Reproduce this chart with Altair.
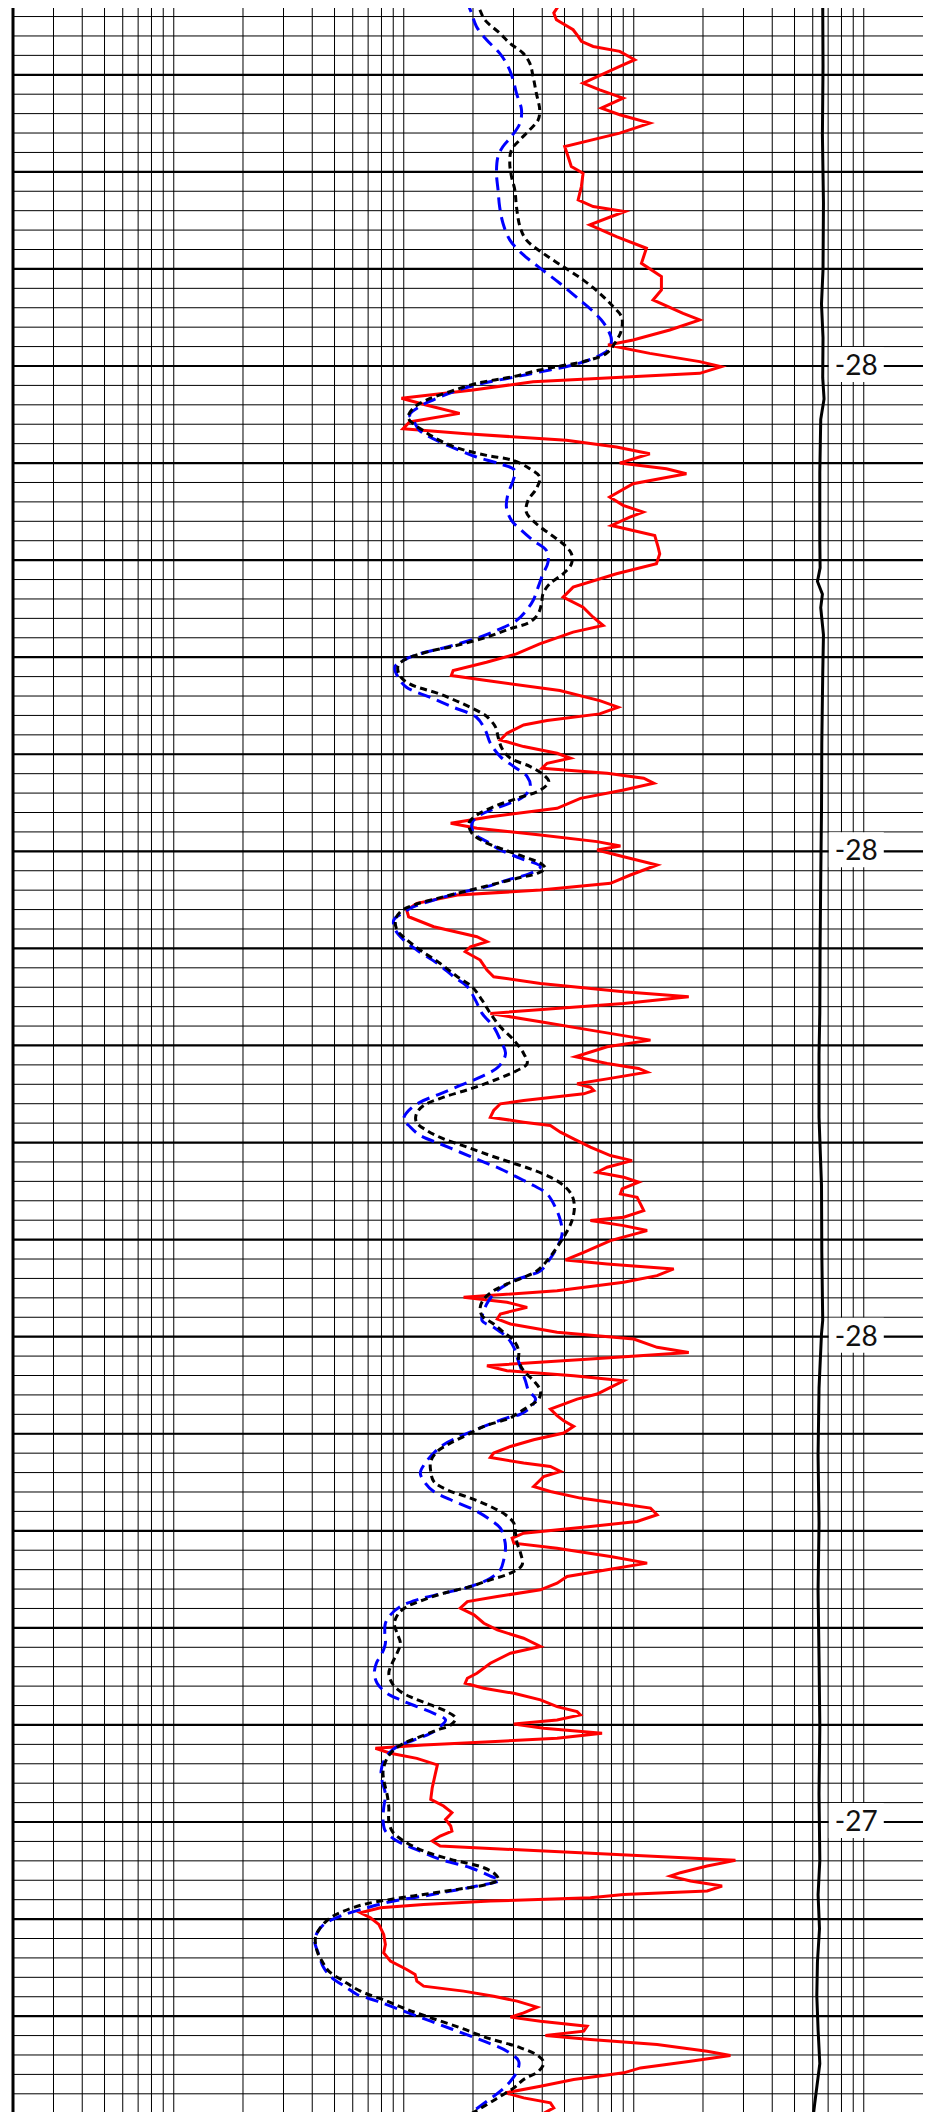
import altair as alt
import pandas as pd

# ---- curve data (depth, resistivity-like value on log scale) ----
RED_DEPTH = [62.27, 62.96, 63.64, 64.33, 65.36, 66.05, 66.56, 67.08, 67.59, 68.45, 69.14, 70.86, 71.55, 72.41,
             73.44, 74.12, 74.98, 76.01, 77.39, 78.42, 79.45, 80.14, 81.51, 82.89, 83.57, 84.09, 84.6, 85.46,
             86.67, 87.87, 89.42, 90.79, 92.16, 93.2, 94.57, 95.26, 96.29, 97.32, 97.84, 98.7, 99.55, 100.07,
             100.76, 101.62, 102.47, 103.33, 104.02, 104.88, 105.77, 106.46, 106.98, 107.66, 108.35, 109.04,
             110.0, 110.58, 111.1, 112.13, 113.5, 114.36, 115.05, 115.57, 116.43, 116.94, 117.46, 118.66,
             119.35, 120.38, 121.41, 122.78, 123.81, 124.85, 125.88, 126.74, 127.42, 128.63, 129.66, 130.52,
             131.37, 131.89, 132.41, 133.44, 134.47, 135.15, 135.84, 136.53, 136.98, 137.84, 138.52, 139.21,
             139.9, 140.41, 140.93, 141.44, 141.96, 142.47, 142.99, 143.68, 144.54, 145.57, 146.43, 147.11,
             147.63, 148.32, 149.0, 149.45, 149.86, 150.55, 151.41, 152.44, 153.3, 153.99, 154.5, 155.36,
             156.05, 156.74, 157.77, 158.8, 159.31, 159.83, 160.34, 161.2, 162.23, 162.92, 163.61, 164.47,
             164.98, 165.67, 166.7, 167.56, 168.42, 169.45, 170.14, 171.17, 171.86, 172.37, 172.75, 173.44,
             173.95, 174.3, 174.64, 174.98, 175.67, 176.01, 176.7, 177.39, 177.9, 178.25, 178.93, 179.62,
             180.48, 181.34, 181.86, 182.54, 183.06, 183.57, 184.09, 184.78, 185.29, 185.64, 186.32, 187.01,
             187.7, 188.04, 188.56, 189.07, 190.1, 191.31, 192.1, 192.51, 193.02, 193.71, 194.4, 195.26,
             195.95, 196.46, 196.98, 197.66, 198.18, 198.69, 199.55, 200.24, 201.1, 201.62, 202.3, 202.99,
             203.51, 204.02, 204.54, 205.22, 205.91, 206.43, 206.94, 207.46, 208.14, 208.66, 209.24, 209.93,
             210.62, 211.31, 211.99, 212.44, 213.02, 213.37, 213.88, 214.4, 215.43, 215.95, 216.63, 217.15,
             217.66, 218.35, 219.04, 219.55, 220.24, 220.76, 221.27, 221.79, 222.65, 223.33, 224.02, 224.71,
             225.4, 226.08, 226.77, 227.29, 227.97, 228.66, 229.52, 230.21, 231.07, 231.92, 232.61, 233.64,
             234.67, 235.19, 235.7, 236.22, 236.74, 237.42, 238.11, 238.63, 238.97, 239.48, 239.9, 240.34,
             240.86, 241.37, 241.72, 242.06, 242.41, 242.92, 243.44, 244.12, 245.09, 246.46, 247.66, 248.35,
             249.04, 249.73, 250.41, 250.93, 251.44, 251.96, 252.47, 253.95, 254.54, 255.22, 255.57, 256.08,
             256.6, 257.11, 257.46, 257.8, 258.14, 258.49, 258.83, 259.35, 259.86, 260.55, 261.58, 262.61,
             263.47, 264.33, 265.19, 265.7, 266.39, 266.91, 267.42, 267.94, 268.45, 269.07, 269.66, 270.1,
             270.52, 271.03, 271.55, 271.99, 272.41, 272.92, 273.61, 274.05, 274.64, 275.33, 275.84, 276.53,
             277.22, 277.9, 278.42, 278.93, 279.45, 280.0]
RED_VALUE = [45.4, 46.9, 44.9, 46.1, 54.5, 57.3, 59.2, 66.6, 86.9, 101, 86.9, 60.2, 71.1, 89.9,
             72.3, 86.9, 117.4, 86.9, 50.1, 51.8, 53.5, 60.2, 59.2, 57.3, 66.6, 91.4, 80, 64.4,
             84.1, 113.5, 108, 131.9, 131.9, 121.3, 163.9, 193.6, 143.4, 99.3, 77.3, 117.4, 193.6, 240,
             193.6, 36.5, 20, 9.77, 12.5, 17.5, 10.6, 9.93, 18.7, 50.9, 84.1, 117.4,
             86.9, 138.7, 169.4, 99.3, 78.6, 89.9, 109.8, 96.1, 80, 99.3, 123.4, 127.6,
             129.7, 125.5, 84.1, 54.5, 49.3, 60.2, 66.6, 73.6, 54.5, 39, 30.9, 22.9,
             16.4, 16.1, 22.9, 47.7, 71.1, 85.5, 71.1, 42.0, 33.2, 28.1, 26.3, 33.2,
             46.4, 53, 42, 39.9, 76.6, 110.5, 122.2, 90.4, 58.6, 46.4, 23.8, 16,
             20.8, 39.3, 69.3, 87.5, 69.3, 90.4, 126.3, 96.7, 79.2, 39.3, 17.1, 11.4,
             10.3, 10.5, 13.5, 20.8, 23, 19.5, 18.5, 21.5, 23, 24.6, 39.3, 90.4,
             173.4, 90.4, 23.8, 39.3, 64.8, 118.2, 76.6, 55.8, 76.6, 105, 114.3, 76.6,
             56.7, 64.8, 67, 60.6, 33.2, 26.3, 24.6, 23.8, 33.2, 43.4, 48, 54.8,
             64.8, 79.2, 98.3, 76.6, 69.3, 90.4, 105.1, 89, 87.5, 103.4, 106.9, 110.5,
             90.4, 64.8, 90.4, 114.3, 79.2, 60.6, 50.5, 76.6, 149.2, 126.3, 90.4, 46.4,
             18.2, 28.1, 34.4, 26.3, 25.5, 29.1, 46.4, 100, 126.3, 173.4, 64.8, 23,
             28.1, 54.8, 90.4, 79.2, 69.3, 56.7, 49.6, 43.4, 46.4, 49.6, 54.8, 49.6,
             36.7, 29.1, 24.6, 23.8, 33.2, 43.4, 48, 40.6, 36.7, 43.4, 58.6, 84.6,
             118.2, 126.3, 103.4, 64.8, 33.2, 29.6, 30.1, 46.4, 79.2, 114.3, 76.6, 51.3,
             46.4, 39.3, 25.5, 18.9, 17.6, 20.2, 22.3, 25.5, 33.2, 39.3, 29.1, 23.8,
             20.8, 18.9, 18.5, 22.3, 30.1, 39.3, 46.4, 56.7, 58.6, 46.4, 30.1, 40.6,
             72.8, 46.4, 23.8, 12.2, 7.53, 8.75, 11.4, 14, 13.7, 13.3, 13.1, 14.9,
             16.2, 15.2, 16, 16.2, 14.4, 13.3, 14.4, 276.7, 208.4, 159.5, 144.3, 176.4,
             242.1, 208.4, 90.4, 64.8, 23.8, 12.2, 7.92, 6.48, 7.16, 7.79, 8.18, 8.32,
             8.18, 8.75, 10.3, 11.2, 11.4, 12.2, 18.2, 24.6, 31.1, 38, 33.2, 29.1,
             39.3, 62.7, 60.6, 41.3, 64.8, 126.3, 208.4, 263.2, 176.4, 106.9, 90.4, 54.8,
             39.3, 27.7, 33.2, 43.4, 44.9, 40.6]

BLACK_DEPTH = [62.27, 63.3, 64.33, 65.7, 66.74, 67.77, 68.8, 70.17, 71.89, 73.61, 74.64, 75.67, 76.7, 77.73,
               79.11, 80.48, 81.86, 83.57, 85.64, 87.01, 88.38, 89.76, 91.13, 92.51, 93.88, 94.91, 96.29,
               97.66, 98.69, 99.38, 99.9, 100.41, 101.1, 101.79, 102.65, 103.51, 104.36, 105.22, 105.6,
               106.63, 107.66, 108.52, 109.21, 109.73, 110.58, 111.44, 112.65, 113.85, 115.05, 116.25,
               117.29, 118.32, 119.35, 120.38, 121.41, 122.44, 123.47, 124.5, 125.53, 126.39, 127.08,
               127.94, 128.8, 129.48, 130.17, 130.86, 131.89, 132.75, 133.78, 134.81, 135.84, 136.12,
               137.15, 138.35, 139.38, 140.41, 141.27, 142.13, 142.82, 143.68, 144.54, 145.4, 146.25,
               147.11, 148.14, 149.0, 149.69, 150.55, 151.24, 151.75, 152.27, 152.78, 153.47, 154.16,
               154.85, 155.53, 156.22, 157.08, 158.11, 159.14, 160.17, 161.55, 162.92, 163.95, 165.33,
               166.7, 168.08, 169.45, 170.82, 171.86, 172.58, 173.61, 174.47, 175.33, 176.19, 177.04,
               177.9, 178.76, 179.62, 180.48, 181.34, 182.03, 182.71, 183.57, 184.43, 185.46, 186.67,
               188.04, 189.42, 190.79, 192.16, 193.2, 193.88, 194.57, 195.26, 196.12, 196.98, 197.84,
               198.69, 199.55, 200.41, 201.44, 202.47, 203.51, 204.54, 205.57, 206.43, 207.29, 208.14,
               208.38, 209.24, 210.1, 210.96, 211.82, 212.85, 213.88, 214.91, 215.77, 216.63, 217.49,
               218.35, 219.21, 220.24, 221.27, 222.3, 223.51, 224.36, 225.05, 225.74, 226.43, 227.11,
               227.8, 228.49, 229.52, 230.55, 231.58, 232.61, 233.64, 234.67, 235.7, 236.56, 237.25,
               237.94, 238.63, 239.31, 240.0, 240.52, 241.2, 241.89, 242.58, 243.44, 244.74, 245.77,
               247.15, 248.52, 249.9, 250.93, 251.96, 252.99, 253.85, 254.71, 255.4, 255.91, 256.43,
               256.94, 257.46, 257.97, 258.49, 259.18, 259.86, 260.89, 261.92, 263.3, 264.33, 265.36,
               266.39, 267.42, 268.45, 269.31, 270.17, 271.2, 272.23, 273.26, 274.12, 274.81, 275.67,
               276.53, 277.39, 278.25, 279.11, 280.0]
BLACK_VALUE = [20.3, 21.4, 22.5, 26.1, 28.9, 33, 35.3, 36.5, 37.7, 39, 38.4, 35.3, 32, 29.4,
               28.9, 29.4, 30.4, 30.9, 32, 34.1, 40.3, 49.3, 60.2, 71.1, 81.3, 88.4, 88.4,
               82.7, 76.1, 64.4, 51, 39, 29.9, 20.7, 15.85, 12.55, 10.98, 10.44, 10.6,
               12.1, 14.3, 17.5, 22.9, 29.9, 35.3, 39, 37.7, 34.7, 34.1, 37.7,
               43.1, 49.3, 53.6, 53.6, 49.3, 43.1, 40.3, 39.7, 38.4, 35.3, 28.9,
               22.9, 16.9, 12.55, 10.27, 9.45, 9.6, 10.6, 14.3, 18.1, 22.1, 23,
               25, 25.8, 26.7, 29.1, 35.5, 40.6, 42.7, 39.3, 31.1, 24.6, 20.8,
               19.2, 19.8, 22.3, 26.3, 33.2, 39.3, 41.3, 38, 31.1, 23.8, 18.2,
               14, 11.05, 9.67, 9.2, 9.35, 10.34, 11.8, 14.4, 17.1, 19.8, 21.9,
               23.8, 26.3, 30.1, 33.2, 34.4, 31.1, 24.6, 19.5, 14.9, 12.2, 11.35,
               11.35, 12.6, 14.9, 18.9, 23.8, 29.1, 35.5, 43.4, 49.6, 53.9, 55.2,
               53.9, 50.5, 46.4, 42, 38, 33.2, 28.1, 24.6, 22.3, 21.5, 21.9,
               24.6, 27.2, 30.1, 31.6, 31.6, 33.2, 36.7, 39.3, 38.6, 34.4, 30.1,
               29.1, 22.3, 18.9, 16, 14, 13.1, 13.1, 13.5, 15.4, 19.5, 23.8,
               27.7, 30.1, 30.6, 31.1, 32.2, 32.7, 29.1, 23.8, 19.5, 14.9, 12.2,
               10.34, 9.51, 9.1, 9.35, 9.67, 9.35, 8.9, 8.61, 8.9, 9.67, 11.05,
               13.1, 15.4, 16.8, 16, 14, 11.8, 10, 9.05, 8.46, 8.13, 8.2,
               8.46, 8.61, 8.61, 8.9, 10, 12.2, 16, 22.3, 25, 25.8, 23,
               17.1, 12.2, 8.75, 6.7, 5.48, 4.8, 4.34, 4.13, 4.2, 4.41, 4.72,
               5.48, 6.48, 8.46, 10.34, 13.1, 17.6, 23, 32.2, 38.6, 40.6, 38.6,
               33.2, 30.1, 26.3, 23, 19.8]

BLUE_DEPTH = [62.27, 63.64, 65.02, 66.39, 67.77, 69.14, 70.52, 71.89, 73.61, 74.98, 76.36, 77.39, 78.42,
              80.14, 81.86, 83.57, 85.29, 87.01, 88.38, 89.76, 91.48, 93.2, 94.23, 95.26, 96.29, 97.32,
              98.35, 99.21, 99.9, 100.41, 101.1, 101.79, 102.65, 103.51, 104.19, 105.05, 105.6, 106.63,
              107.66, 108.69, 109.38, 110.07, 110.76, 111.79, 113.16, 114.54, 115.91, 116.94, 117.97,
              119.0, 120.21, 121.41, 122.78, 124.16, 125.19, 126.22, 127.25, 127.94, 128.97, 129.66,
              130.34, 131.03, 132.06, 133.09, 134.12, 135.15, 136.19, 137.49, 138.87, 140.24, 141.27,
              142.3, 143.33, 144.36, 145.4, 146.25, 147.11, 148.14, 149.0, 149.86, 150.72, 151.58,
              152.27, 152.96, 153.64, 154.33, 155.02, 155.7, 156.39, 157.08, 158.11, 159.14, 160.17,
              161.55, 162.92, 163.95, 165.33, 166.7, 168.08, 169.45, 170.82, 172.2, 173.26, 174.12,
              174.98, 175.84, 176.7, 177.56, 178.42, 179.28, 180.14, 181.0, 181.86, 182.71, 183.57,
              184.43, 185.29, 186.67, 188.04, 189.42, 190.79, 192.16, 193.2, 194.23, 195.26, 196.29,
              197.32, 198.35, 199.04, 200.07, 201.1, 202.13, 203.16, 204.54, 205.57, 206.43, 207.29,
              207.97, 208.38, 209.24, 210.27, 211.13, 211.99, 213.02, 214.05, 215.09, 215.95, 216.8,
              217.84, 218.87, 219.73, 220.58, 221.62, 222.99, 224.02, 224.88, 225.74, 226.43, 227.11,
              227.8, 228.66, 229.52, 230.55, 231.58, 232.61, 233.64, 234.67, 235.7, 236.74, 237.42,
              238.11, 238.8, 239.48, 240.17, 240.86, 241.55, 242.23, 242.92, 243.78, 244.74, 245.77,
              247.15, 248.52, 249.9, 250.93, 251.96, 252.99, 253.85, 254.71, 255.57, 256.01, 256.6,
              257.11, 257.63, 258.14, 258.83, 259.69, 260.55, 261.41, 262.27, 263.64, 265.02, 266.05,
              267.08, 267.77, 268.45, 269.48, 270.52, 271.55, 272.58, 273.61, 274.64, 275.67, 276.7,
              277.73, 278.76, 280.0]
BLUE_VALUE = [18.7, 19.7, 20.7, 22.9, 26.1, 28.4, 29.9, 30.9, 32.5, 32, 29.4, 27, 25.7,
              25.3, 25.7, 26.1, 27, 28.9, 32.5, 38.4, 47.7, 58.2, 65.5, 72.3, 77.3, 80,
              77.3, 66.6, 54.5, 43.1, 30.9, 22.1, 16.4, 13.4, 11.7, 10.6, 11, 11.7,
              13.9, 17.5, 20.7, 26.1, 30.4, 29.9, 28.4, 27.95, 29.4, 32.5, 36.5,
              41.7, 42.4, 40.3, 38.4, 36.5, 34.1, 30.9, 25.3, 21.4, 15.3, 11.7,
              9.93, 9.14, 9.45, 10.27, 12.97, 16.4, 20.7, 22.6, 23.8, 26.3, 30.1,
              34.4, 35.5, 33.2, 26.3, 21.5, 19.8, 20.2, 23, 26.3, 32.2, 39.3,
              35.5, 28.1, 23, 17.1, 13.5, 11.05, 9.83, 9.05, 9.2, 10, 11.4,
              14, 16.5, 18.9, 20.5, 21.9, 24.6, 26.3, 27.7, 25.8, 21.5, 17.6,
              14.4, 11.8, 10.5, 10, 10.7, 11.8, 14.4, 17.6, 21.5, 26.3, 31.1,
              36.7, 42, 45.6, 48, 48.8, 46.4, 42.7, 39.3, 30.1, 25.5, 23.4,
              22.3, 21.9, 24.6, 28.1, 30.1, 31.1, 32.2, 33.8, 34.9, 37.4, 35.5,
              32.2, 28.1, 22.3, 17.6, 14.9, 13.5, 12.4, 11.8, 12.4, 13.5, 16,
              20.2, 23.8, 26.3, 27.2, 27.7, 27.2, 26.3, 23.8, 19.5, 14.9, 11.4,
              9.67, 8.75, 8.32, 8.27, 8.32, 8.05, 7.6, 7.45, 7.66, 8.46, 9.67,
              11.4, 13.5, 15.2, 14.4, 13.1, 11.05, 9.35, 8.61, 8.18, 7.97, 8.05,
              8.32, 8.18, 8.13, 8.32, 9.35, 11.8, 14.4, 19.5, 23.8, 26.1, 20.8,
              16, 12.2, 9.05, 6.93, 5.3, 4.49, 4.2, 4.1, 4.27, 4.49, 4.88,
              5.67, 6.27, 7.66, 10, 13.1, 17.1, 22.3, 28.1, 31.6, 31.1, 29.1,
              26.3, 23, 19.5]

TRACE_DEPTH = [62.3, 69.2, 76.2, 83.2, 90.1, 93.6, 97.1, 101.2, 103.4, 105.5, 111.0, 118.0, 120.8, 122.2,
               123.5, 124.9, 127.7, 131.9, 138.8, 145.8, 152.8, 159.8, 166.7, 170.9, 177.4, 184.4, 191.3,
               198.3, 199.7, 205.3, 212.2, 219.2, 226.2, 233.1, 240.1, 247.1, 254.0, 257.5, 261.0, 264.4,
               267.9, 271.4, 274.9, 279.0, 280.0]
TRACE_VALUE = [663, 665, 661, 668, 665, 655, 665, 663, 672, 650, 644, 644, 646, 629,
               661, 650, 668, 663, 657, 655, 650, 646, 644, 639, 639, 655, 657,
               663, 655, 639, 633, 639, 633, 639, 644, 639, 644, 633, 642, 629,
               625, 633, 644, 612, 605]

# ---- grid / labels ----
GRID_X = [0.3, 0.4, 0.5, 0.6, 0.7, 0.8, 0.9, 1, 2, 3, 4, 5, 6, 7, 8, 9, 10, 20, 30, 40, 50, 60, 70, 80, 90,
          100, 200, 300, 400, 500, 600, 700, 800, 900, 1000]
BORDER_X = [0.2]
MINOR_DEPTH = list(range(64, 281, 2))
MAJOR_DEPTH = list(range(70, 281, 10))
LABEL_DEPTH = [100, 150, 200, 250]
LABEL_TEXT = ["-28", "-28", "-28", "-27"]
LABEL_X = 928

# 230 px per decade, 9.707 px per depth unit; width kept inside the page so the svg is not shrunk
W, H = 910, 2106
X_DOMAIN = [0.2, 1809.5]
Y_DOMAIN = [63.12, 280.08]

xs = alt.Scale(type="log", domain=X_DOMAIN, nice=False)
ys = alt.Scale(domain=Y_DOMAIN, reverse=True, nice=False, zero=False)


def curve_df(d, v):
    return pd.DataFrame({"depth": d, "value": v})


vgrid = alt.Chart(pd.DataFrame({"value": GRID_X})).mark_rule(color="black", strokeWidth=1).encode(
    x=alt.X("value:Q", scale=xs, axis=None))
hminor = alt.Chart(pd.DataFrame({"depth": MINOR_DEPTH})).mark_rule(color="black", strokeWidth=1).encode(
    y=alt.Y("depth:Q", scale=ys, axis=None))
hmajor = alt.Chart(pd.DataFrame({"depth": MAJOR_DEPTH})).mark_rule(color="black", strokeWidth=2.2).encode(
    y=alt.Y("depth:Q", scale=ys, axis=None))
border = alt.Chart(pd.DataFrame({"value": BORDER_X})).mark_rule(color="black", strokeWidth=3).encode(
    x=alt.X("value:Q", scale=xs, axis=None))

lab_df = pd.DataFrame({"depth": LABEL_DEPTH, "label": LABEL_TEXT, "value": [LABEL_X] * len(LABEL_DEPTH)})
box = alt.Chart(lab_df).mark_point(
    shape="M-1.571,-1.086L1.571,-1.086L1.571,0.914L-1.571,0.914Z",
    size=1225, filled=True, color="white", opacity=1, strokeWidth=0).encode(
    x=alt.X("value:Q", scale=xs, axis=None), y=alt.Y("depth:Q", scale=ys, axis=None))
text = alt.Chart(lab_df).mark_text(font="Lato", fontSize=28, align="center", baseline="middle",
                                   dy=1, color="#111111").encode(
    x=alt.X("value:Q", scale=xs, axis=None), y=alt.Y("depth:Q", scale=ys, axis=None), text="label:N")


def line(d, v, **kw):
    return alt.Chart(curve_df(d, v)).mark_line(clip=True, **kw).encode(
        x=alt.X("value:Q", scale=xs, axis=None),
        y=alt.Y("depth:Q", scale=ys, axis=None),
        order=alt.Order("depth:Q"))


trace = line(TRACE_DEPTH, TRACE_VALUE, color="black", strokeWidth=3)
red = line(RED_DEPTH, RED_VALUE, color="#ff0000", strokeWidth=3)
blue = line(BLUE_DEPTH, BLUE_VALUE, color="#0000ff", strokeWidth=3, strokeDash=[13, 7],
            interpolate="catmull-rom")
black = line(BLACK_DEPTH, BLACK_VALUE, color="black", strokeWidth=3, strokeDash=[7, 4.5],
             interpolate="catmull-rom")

chart = alt.layer(vgrid, hminor, hmajor, border, box, text, trace, red, blue, black).properties(
    width=W, height=H,
    autosize=alt.AutoSizeParams(type="none"),
    padding={"left": 5, "top": 0, "right": 0, "bottom": 0},
    background="white",
).configure_view(stroke=None)

chart.save("out.html", embed_options={"renderer": "svg", "actions": False})
